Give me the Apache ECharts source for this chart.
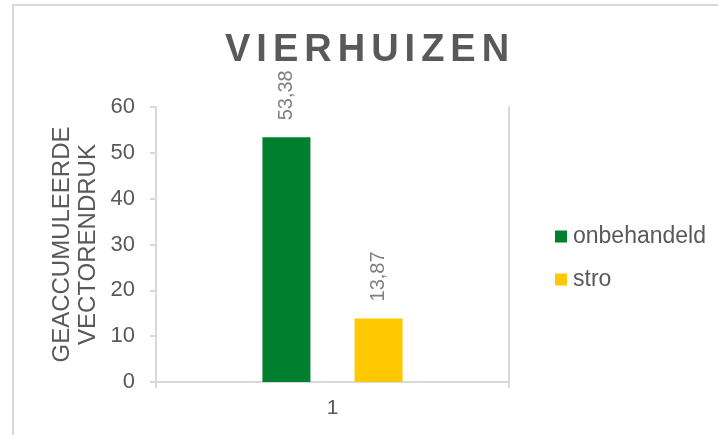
<!DOCTYPE html>
<html>
<head>
<meta charset="utf-8">
<script src="https://cdn.jsdelivr.net/npm/echarts@6/dist/echarts.min.js"></script>
<style>
  html, body { margin: 0; padding: 0; background: #fff; }
  #chart { width: 718px; height: 435px; }
</style>
</head>
<body>
<div id="chart"></div>
<script>
// data
const titleText = 'VIERHUIZEN'
const categories = ['1']
const seriesNames = ['onbehandeld', 'stro']
const onbehandeld = [53.38]
const stro = [13.87]
const yTicks = { min: 0, max: 60, interval: 10 }
const yName = 'GEACCUMULEERDE\nVECTORENDRUK'

const grey = '#595959'
const lineGrey = '#d9d9d9'

// spread letters of the title (no letterSpacing in zrender)
const spacedTitle = titleText.split('').map(c => '{s|' + c + '}').join('')

const commaFmt = p => String(p.value).replace('.', ',')

let myChart = echarts.init(document.getElementById('chart'))
myChart.setOption({
  animation: false,
  textStyle: { fontFamily: 'Liberation Sans, Arial, sans-serif' },
  title: {
    text: spacedTitle,
    left: 217,
    top: 27,
    textStyle: {
      rich: {
        s: {
          fontSize: 38,
          fontWeight: 'bold',
          color: grey,
          fontFamily: 'Liberation Sans',
          padding: [0, 3, 0, 3]
        }
      }
    }
  },
  graphic: [{
    type: 'rect',
    shape: { x: 13, y: 5, width: 800, height: 600 },
    style: { fill: 'none', stroke: lineGrey, lineWidth: 2 },
    silent: true,
    z: -1
  }],
  legend: {
    orient: 'vertical',
    left: 550,
    top: 220,
    itemWidth: 12,
    itemHeight: 12,
    itemGap: 20,
    itemStyle: { borderWidth: 0 },
    icon: 'rect',
    textStyle: { color: grey, fontSize: 23, padding: [0, 0, 0, 1] },
    data: seriesNames
  },
  grid: {
    left: 156,
    right: 209,
    top: 107,
    bottom: 53
  },
  xAxis: {
    type: 'category',
    data: categories,
    axisLine: { lineStyle: { color: lineGrey, width: 2 } },
    axisTick: { show: true, length: 6, alignWithLabel: false, lineStyle: { color: lineGrey, width: 2 } },
    axisLabel: { color: grey, fontSize: 21, margin: 16 }
  },
  yAxis: [{
    type: 'value',
    min: yTicks.min,
    max: yTicks.max,
    interval: yTicks.interval,
    name: yName,
    nameLocation: 'middle',
    nameRotate: 90,
    nameGap: 55,
    nameTextStyle: { color: grey, fontSize: 24, lineHeight: 26 },
    axisLine: { show: true, lineStyle: { color: lineGrey, width: 2 } },
    axisTick: { show: true, length: 6, lineStyle: { color: lineGrey, width: 2 } },
    axisLabel: { color: grey, fontSize: 22, margin: 21 },
    splitLine: { show: false }
  }, {
    type: 'value',
    position: 'right',
    min: yTicks.min,
    max: yTicks.max,
    interval: yTicks.interval,
    axisLine: { show: true, lineStyle: { color: lineGrey, width: 2 } },
    axisTick: { show: false },
    axisLabel: { show: false },
    splitLine: { show: false }
  }],
  series: [{
    name: seriesNames[0],
    type: 'bar',
    data: onbehandeld,
    barWidth: 48,
    barGap: '92%',
    itemStyle: { color: '#00802f' },
    label: {
      show: true,
      position: 'top',
      rotate: 90,
      align: 'left',
      verticalAlign: 'middle',
      distance: 17,
      color: '#7f7f7f',
      fontSize: 20,
      formatter: commaFmt
    }
  }, {
    name: seriesNames[1],
    type: 'bar',
    data: stro,
    barWidth: 48,
    itemStyle: { color: '#ffc800' },
    label: {
      show: true,
      position: 'top',
      rotate: 90,
      align: 'left',
      verticalAlign: 'middle',
      distance: 17,
      color: '#7f7f7f',
      fontSize: 20,
      formatter: commaFmt
    }
  }]
})
</script>
</body>
</html>
